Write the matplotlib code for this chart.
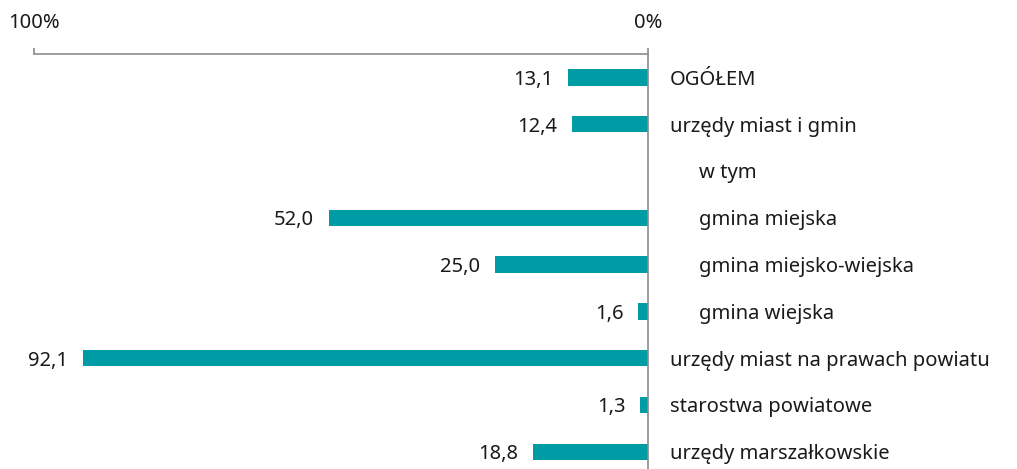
import matplotlib
matplotlib.use('Agg')
import matplotlib.pyplot as plt
import numpy as np

# data
categories = ['OGÓŁEM', 'urzędy miast i gmin', 'w tym', 'gmina miejska',
              'gmina miejsko-wiejska', 'gmina wiejska',
              'urzędy miast na prawach powiatu', 'starostwa powiatowe',
              'urzędy marszałkowskie']
values = [13.1, 12.4, np.nan, 52.0, 25.0, 1.6, 92.1, 1.3, 18.8]
indented = [False, False, True, True, True, True, False, False, False]
tick_values = [100, 0]
tick_labels = ['100%', '0%']

plt.rcParams['font.family'] = ['Noto Sans', 'DejaVu Sans']

fig = plt.figure(figsize=(10.17, 4.69), dpi=100)
ax = fig.add_axes([34 / 1017, 0, 614 / 1017, 1 - 54 / 469])

bar_color = '#009ca6'
text_color = '#1a1a1a'
grey = '#8c8c8c'
fs = 14.5

y = np.arange(len(categories))
vals = np.array(values)
mask = ~np.isnan(vals)
ax.barh(y[mask], vals[mask], height=0.35, color=bar_color)

# value labels left of each bar
for yi, v in zip(y[mask], vals[mask]):
    ax.annotate(f'{v:.1f}'.replace('.', ','), xy=(v, yi), xytext=(-10.5, 0),
                textcoords='offset points', ha='right', va='center_baseline',
                fontsize=fs, color=text_color)

# category labels right of the 0% line
for yi, cat, ind in zip(y, categories, indented):
    off = 37 if ind else 15.5
    ax.annotate(cat, xy=(0, yi), xytext=(off, 0), textcoords='offset points',
                ha='left', va='center_baseline', fontsize=fs, color=text_color,
                annotation_clip=False)

ax.set_xlim(100, 0)
ax.set_ylim(8.37, -0.5)

ax.xaxis.tick_top()
ax.set_xticks(tick_values)
ax.set_xticklabels(tick_labels, fontsize=fs, color=text_color)
ax.tick_params(axis='x', direction='out', length=4.3, width=1.2, color=grey, pad=11)
ax.set_yticks([])

for side in ['left', 'bottom']:
    ax.spines[side].set_visible(False)
ax.spines['top'].set_color(grey)
ax.spines['top'].set_linewidth(1.2)
ax.spines['right'].set_color(grey)
ax.spines['right'].set_linewidth(1.2)

fig.savefig('out.png', dpi=100)
